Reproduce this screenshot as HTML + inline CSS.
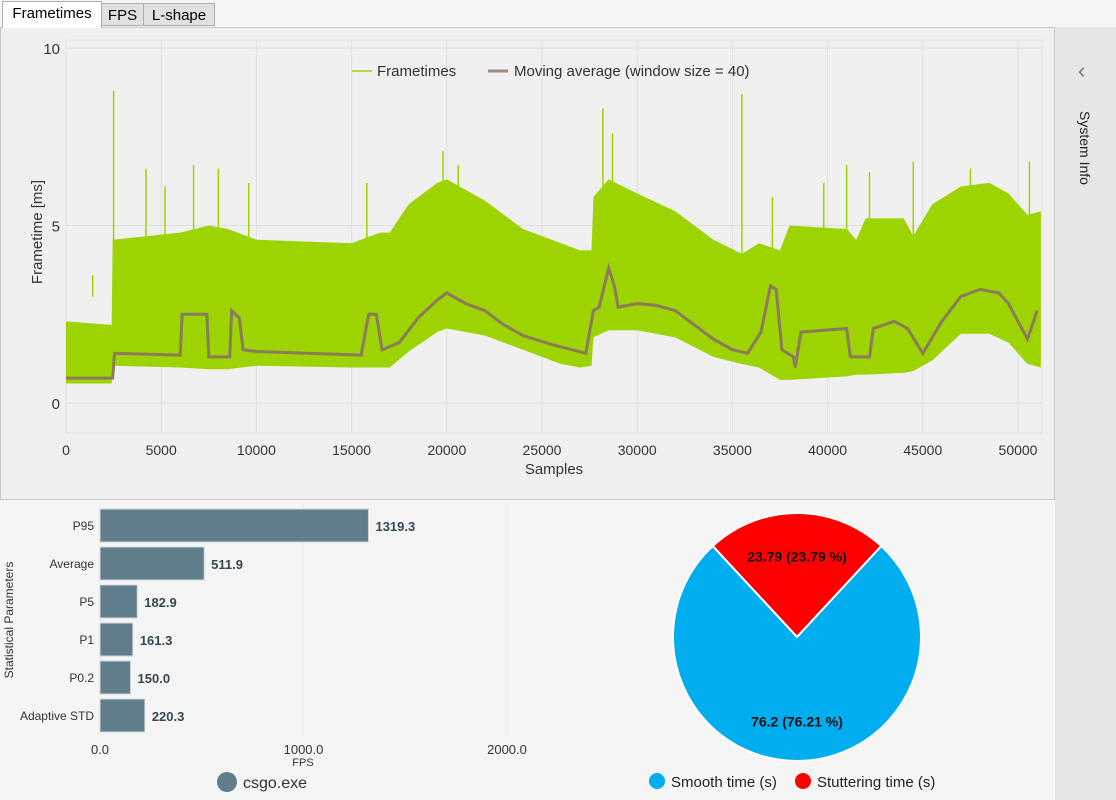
<!DOCTYPE html>
<html><head><meta charset="utf-8"><style>
body{margin:0;width:1116px;height:800px;overflow:hidden;background:#f5f5f5;font-family:"Liberation Sans",sans-serif;position:relative}
.tab{position:absolute;top:3px;height:23px;font-size:15px;line-height:23px;text-align:center;border:1px solid #adadad;background:#e1e1e1;box-sizing:border-box}
</style></head><body>
<div class="tab" style="left:2px;width:100px;top:1px;height:27px;background:#fff;border-bottom:none;z-index:2">Frametimes</div>
<div class="tab" style="left:101px;width:43px">FPS</div>
<div class="tab" style="left:143px;width:72px">L-shape</div>
<div style="position:absolute;left:1055px;top:27px;width:61px;height:773px;background:#e6e6e6"></div>
<div style="position:absolute;left:1078px;top:58px;font-size:22px;color:#777">‹</div>
<div style="position:absolute;left:1045px;top:140px;width:80px;transform:rotate(90deg);font-size:14px;color:#222;text-align:center">System Info</div>
<svg id="main" width="1116" height="800" style="position:absolute;left:0;top:0"></svg>
<script>
const ftSamples=[0,2400,2450,6000,7500,8500,10000,15000,16500,17000,18000,19500,20000,22000,24000,26000,27000,27600,27700,28500,30000,32000,34000,35500,36400,37500,38000,41000,41500,42000,44000,44500,45500,47000,48500,49500,50500,51200];
const ftLow=[0.55,0.55,1.05,1.0,0.95,0.95,1.05,1.0,1.0,1.0,1.45,2.0,2.1,1.9,1.5,1.1,1.0,1.05,1.85,2.05,2.05,1.85,1.3,1.1,1.0,0.65,0.65,0.75,0.8,0.8,0.85,0.9,1.2,1.95,1.95,1.7,1.1,1.0];
const ftHigh=[2.3,2.2,4.6,4.8,5.0,4.9,4.6,4.5,4.8,4.8,5.6,6.2,6.3,5.7,4.9,4.5,4.3,4.3,5.8,6.3,5.9,5.4,4.6,4.2,4.5,4.3,5.0,4.9,4.6,5.2,5.2,4.7,5.6,6.1,6.2,5.9,5.3,5.4];
const maSamples=[0,2450,2550,6000,6100,7400,7500,8600,8700,9100,9300,10000,15500,15900,16300,16600,17500,18500,19500,20000,21000,22000,23000,24000,25500,27300,27700,28000,28500,28800,29000,30000,31000,32000,33000,34000,35000,35800,36500,37000,37300,37600,38200,38300,38600,41000,41200,42200,42400,43500,44200,45000,46000,47000,48000,49000,49500,50500,51000];
const maValues=[0.7,0.7,1.4,1.35,2.5,2.5,1.3,1.3,2.6,2.4,1.5,1.45,1.35,2.5,2.5,1.5,1.7,2.4,2.9,3.1,2.8,2.6,2.2,1.9,1.65,1.4,2.6,2.7,3.8,3.3,2.7,2.8,2.75,2.6,2.2,1.8,1.5,1.4,2.0,3.3,3.2,1.5,1.3,1.0,2.0,2.1,1.3,1.3,2.1,2.3,2.1,1.4,2.3,3.0,3.2,3.1,2.8,1.8,2.6];
const spikeSamples=[1400,2500,4200,5200,6700,8000,9600,15800,19800,20600,28200,28700,35500,37100,39800,41000,42200,44500,47500,50600];
const spikeValues=[3.6,8.8,6.6,6.1,6.7,6.6,6.2,6.2,7.1,6.7,8.3,7.6,8.7,5.8,6.2,6.7,6.5,6.8,6.6,6.8];
const xTicks=[0,5000,10000,15000,20000,25000,30000,35000,40000,45000,50000];
const yTicks=[0,5,10];
const barCats=["P95","Average","P5","P1","P0.2","Adaptive STD"];
const barValues=[1319.3,511.9,182.9,161.3,150.0,220.3];
const barTicks=[0,1000,2000];
const pieLabels=["Stuttering time (s)","Smooth time (s)"];
const pieValues=[23.79,76.21];

const NS="http://www.w3.org/2000/svg",svg=document.getElementById('main');
function el(t,a,p){const e=document.createElementNS(NS,t);for(const k in a)e.setAttribute(k,a[k]);(p||svg).appendChild(e);return e;}
function tx(x,y,s,a){const e=el('text',Object.assign({x:x,y:y,'font-size':13,fill:'#333'},a||{}));e.textContent=s;return e;}
const panel=el('rect',{x:0.5,y:27.5,width:1054,height:472,fill:'#f0f0f0',stroke:'#c8c8c8'});


const X=s=>66+s*0.01904, Y=v=>403-v*35.5;
const plot=el('rect',{x:66,y:40,width:976,height:393,fill:'#f0f0f0',stroke:'#e2e2e2'});


xTicks.forEach(t=>{const l=el('line',{x1:X(t),x2:X(t),y1:40,y2:433,stroke:'#e0e0e0'});
 const lb=tx(X(t),455,String(t),{'text-anchor':'middle','font-size':14});});
yTicks.forEach(t=>{const l=el('line',{x1:66,x2:1042,y1:Y(t),y2:Y(t),stroke:'#e0e0e0'});
 const lb=tx(60,Y(t)+6,String(t),{'text-anchor':'end','font-size':15});});
const xt=tx(554,474,'Samples',{'text-anchor':'middle','font-size':15});
const yt=tx(0,0,'Frametime [ms]',{'text-anchor':'middle','font-size':15,transform:'translate(42,232) rotate(-90)'});
let d='M'+X(ftSamples[0])+','+Y(ftHigh[0]);
for(let i=1;i<ftSamples.length;i++)d+=' L'+X(ftSamples[i])+','+Y(ftHigh[i]);
for(let i=ftSamples.length-1;i>=0;i--)d+=' L'+X(ftSamples[i])+','+Y(ftLow[i]);
const band=el('path',{d:d+'Z',fill:'#9dd300'});
spikeSamples.forEach((s,i)=>{const l=el('line',{x1:X(s),x2:X(s),y1:Y(spikeValues[i]),y2:Y(3),stroke:'#9dd300','stroke-width':1.5});});
let md='';maValues.forEach((v,i)=>{md+=(i?' L':'M')+X(maSamples[i])+','+Y(v);});
const ma=el('path',{d:md,fill:'none',stroke:'#8b7b5a','stroke-width':3});
const g1=el('line',{x1:352,x2:372,y1:71,y2:71,stroke:'#9dd300','stroke-width':1.5});
const t1=tx(377,76,'Frametimes',{'font-size':15});
const g2=el('line',{x1:488,x2:508,y1:71,y2:71,stroke:'#a08a7d','stroke-width':3});
const t2=tx(514,76,'Moving average (window size = 40)',{'font-size':15});
const BX=v=>100+v*0.2035;
barTicks.forEach(t=>{const l=el('line',{x1:BX(t),x2:BX(t),y1:505,y2:735,stroke:'#ececec'});
 const lb=tx(BX(t),754,t.toFixed(1),{'text-anchor':'middle','font-size':13});});
barCats.forEach((c,i)=>{const y=509+i*38;
 const r=el('rect',{x:BX(0),y:y,width:BX(barValues[i])-BX(0),height:33,fill:'#607d8b',stroke:'#d0d7da'});
 const cl=tx(94,y+21,c,{'text-anchor':'end','font-size':12,fill:'#333'});
 const vl=tx(BX(barValues[i])+7,y+22,barValues[i].toFixed(1),{'font-size':13,'font-weight':'bold',fill:'#37474f'});});
const bt=tx(303,766,'FPS',{'text-anchor':'middle','font-size':11});
const by=tx(0,0,'Statistical Parameters',{'text-anchor':'middle','font-size':12,transform:'translate(13,620) rotate(-90)'});
const bc=el('circle',{cx:227,cy:782,r:10,fill:'#607d8b'});
const bl=tx(243,788,'csgo.exe',{'font-size':16});
const cx=797,cy=637,R=124,tot=pieValues.reduce((a,b)=>a+b,0),cols=['#ff0000','#00adef'];
let a0=-Math.PI/2-pieValues[0]/tot*Math.PI;
pieValues.forEach((v,i)=>{const a1=a0+v/tot*2*Math.PI,lg=(a1-a0)>Math.PI?1:0;
 const p=el('path',{d:`M${cx},${cy} L${cx+R*Math.cos(a0)},${cy+R*Math.sin(a0)} A${R},${R} 0 ${lg} 1 ${cx+R*Math.cos(a1)},${cy+R*Math.sin(a1)} Z`,fill:cols[i],stroke:'#fff','stroke-width':2});
 
 const am=(a0+a1)/2,rr=i?R*0.68:R*0.65;
 const lt=tx(cx+rr*Math.cos(am),cy+rr*Math.sin(am)+5,(i?'76.2':v.toFixed(2))+' ('+v.toFixed(2)+' %)',{'text-anchor':'middle','font-size':14,'font-weight':'bold',fill:'#111'});
 
 a0=a1;});
const c1=el('circle',{cx:657,cy:781,r:8,fill:'#00adef'});
const l1=tx(671,787,pieLabels[1],{'font-size':15,fill:'#222'});
const c2=el('circle',{cx:803,cy:781,r:8,fill:'#ff0000'});
const l2=tx(817,787,pieLabels[0],{'font-size':15,fill:'#222'});
</script>
</body></html>
